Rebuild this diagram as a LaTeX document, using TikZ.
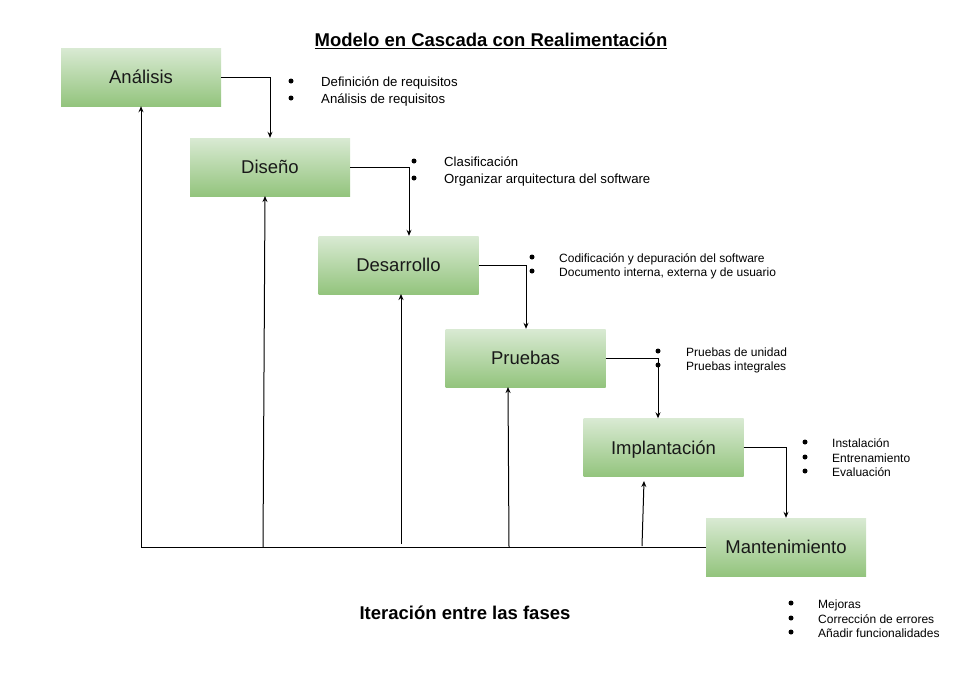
\documentclass[tikz,border=0pt]{standalone}
\usepackage{fontspec}
\setmainfont{Liberation Sans}
\usetikzlibrary{arrows.meta}
\definecolor{gtop}{HTML}{D9EAD3}
\definecolor{gbot}{HTML}{93C47D}
\tikzset{
  phase/.style={minimum width=160pt, minimum height=58pt, inner sep=0pt,
    top color=gtop, bottom color=gbot, draw=none, text=black!90,
    text height=13.3pt, text depth=0pt,
    font=\fontsize{18.5}{22}\selectfont},
  link/.style={line width=1pt, draw=black},
  tip/.style={-{Stealth[length=6pt,width=5pt]}},
  itemA/.style={anchor=west, inner sep=0pt, text height=0.75em, text depth=0.2em,
    yshift=-3pt, font=\fontsize{13.2}{15}\selectfont},
  itemB/.style={anchor=west, inner sep=0pt, text height=0.75em, text depth=0.2em,
    yshift=-2.5pt, font=\fontsize{12}{14}\selectfont},
  dot/.style={circle, fill=black, inner sep=0pt, minimum size=5pt},
  heading/.style={inner sep=0pt, font=\bfseries\fontsize{18.5}{22}\selectfont}
}
\begin{document}
\begin{tikzpicture}[x=1pt,y=-1pt]
\useasboundingbox (0,0) rectangle (955,689);
% title
\node[heading] (title) at (491,41) {\underline{Modelo en Cascada con Realimentación}};
\node[heading] (iter) at (465,613) {Iteración entre las fases};
% phases
\node[phase] (ana) at (141,77) {Análisis};
\node[phase] (dis) at (270,167) {Diseño};
\node[phase] (des) at (398.5,265) {Desarrollo};
\node[phase] (pru) at (525.5,358) {Pruebas};
\node[phase] (imp) at (663.5,447.5) {Implantación};
\node[phase] (man) at (786,547) {Mantenimiento};
% forward connectors
\draw[link,tip] (ana.east) -| (dis.north -| 270,0);
\draw[link,tip] (dis.east) -| (des.north -| 409,0);
\draw[link,tip] (des.east) -| (pru.north -| 526,0);
\draw[link,tip] (pru.east) -| (imp.north -| 658,0);
\draw[link,tip] (imp.east) -| (man.north);
% feedback line
\coordinate (c0) at (141,547);
\coordinate (c1) at (263,547);
\coordinate (c2) at (401,544);
\coordinate (c3) at (509,547);
\coordinate (c4) at (642,546);
\draw[link] (c0) -- (man.west);
\draw[link,tip] (c0) -- (ana.south);
\draw[link,tip] (c1) -- (265,196) coordinate (d1);
\draw[link,tip] (c2) -- (401,294) coordinate (d2);
\draw[link,tip] (c3) -- (508,387) coordinate (d3);
\draw[link,tip] (c4) -- (644,481) coordinate (d4);
% lists
\node[dot] (a1b) at (291,81) {}; \node[itemA] (a1) at (321,81) {Definición de requisitos};
\node[dot] (a2b) at (291,98) {}; \node[itemA] (a2) at (321,98) {Análisis de requisitos};
\node[dot] (b1b) at (414,161) {}; \node[itemA] (b1) at (444,161) {Clasificación};
\node[dot] (b2b) at (414,178) {}; \node[itemA] (b2) at (444,178) {Organizar arquitectura del software};
\node[dot] (c1b) at (532,257) {}; \node[itemB] (c1t) at (559,257) {Codificación y depuración del software};
\node[dot] (c2b) at (532,271) {}; \node[itemB] (c2t) at (559,271) {Documento interna, externa y de usuario};
\node[dot] (p1b) at (658,351) {}; \node[itemB] (p1) at (686,351) {Pruebas de unidad};
\node[dot] (p2b) at (658,365) {}; \node[itemB] (p2) at (686,365) {Pruebas integrales};
\node[dot] (i1b) at (805,442) {}; \node[itemB] (i1) at (832,442) {Instalación};
\node[dot] (i2b) at (805,457) {}; \node[itemB] (i2) at (832,457) {Entrenamiento};
\node[dot] (i3b) at (805,471) {}; \node[itemB] (i3) at (832,471) {Evaluación};
\node[dot] (m1b) at (791,603) {}; \node[itemB] (m1) at (818,603) {Mejoras};
\node[dot] (m2b) at (791,618) {}; \node[itemB] (m2) at (818,618) {Corrección de errores};
\node[dot] (m3b) at (791,632) {}; \node[itemB] (m3) at (818,632) {Añadir funcionalidades};
\end{tikzpicture}
\end{document}
